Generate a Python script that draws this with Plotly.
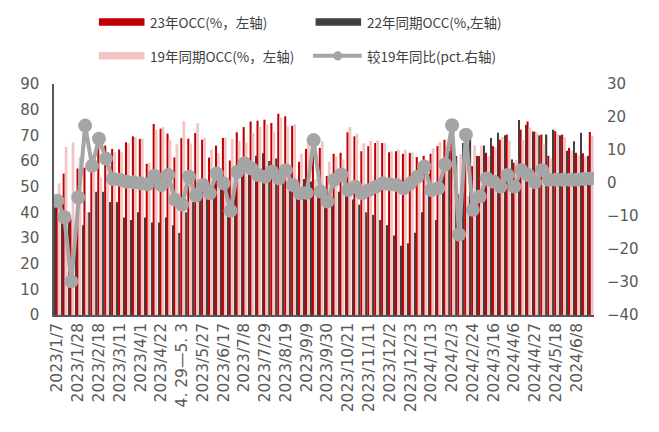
import plotly.graph_objects as go

categories = [
    "2023/1/7", "2023/1/14", "2023/1/21", "2023/1/28", "2023/2/4", "2023/2/11",
    "2023/2/18", "2023/2/25", "2023/3/4", "2023/3/11", "2023/3/18", "2023/3/25",
    "2023/4/1", "2023/4/8", "2023/4/15", "2023/4/22", "2023/4/29", "2023/5/6",
    "4. 29—5. 3", "2023/5/13", "2023/5/20", "2023/5/27", "2023/6/3", "2023/6/10",
    "2023/6/17", "2023/6/24", "2023/7/1", "2023/7/8", "2023/7/15", "2023/7/22",
    "2023/7/29", "2023/8/5", "2023/8/12", "2023/8/19", "2023/8/26", "2023/9/2",
    "2023/9/9", "2023/9/16", "2023/9/23", "2023/9/30", "2023/10/7", "2023/10/14",
    "2023/10/21", "2023/10/28", "2023/11/4", "2023/11/11", "2023/11/18", "2023/11/25",
    "2023/12/2", "2023/12/9", "2023/12/16", "2023/12/23", "2023/12/30", "2024/1/6",
    "2024/1/13", "2024/1/20", "2024/1/27", "2024/2/3", "2024/2/10", "2024/2/17",
    "2024/2/24", "2024/3/2", "2024/3/9", "2024/3/16", "2024/3/23", "2024/3/30",
    "2024/4/6", "2024/4/13", "2024/4/20", "2024/4/27", "2024/5/4", "2024/5/11",
    "2024/5/18", "2024/5/25", "2024/6/1", "2024/6/8", "2024/6/15", "2024/6/22",
]

occ_2023 = [
    45.9, 55.1, 37.5, 57.1, 57.4, 60.8, 67.0, 66.0, 64.7, 64.5, 67.3, 69.6,
    68.6, 58.9, 74.4, 72.6, 70.7, 61.4, 68.9, 68.7, 70.9, 68.3, 61.3, 66.0,
    69.0, 60.2, 71.2, 73.2, 75.4, 75.7, 76.1, 74.8, 78.4, 77.4, 73.7, 59.7,
    64.7, 66.0, 65.1, 54.2, 62.8, 63.2, 71.2, 69.6, 63.8, 65.8, 67.0, 67.0,
    63.4, 63.8, 62.8, 63.2, 61.5, 62.0, 62.8, 65.8, 68.3, 69.0, 47.0, 61.0,
    58.0, 61.9, 63.2, 65.8, 68.3, 70.3, 59.3, 72.2, 75.4, 71.4, 70.3, 62.0,
    71.6, 70.3, 65.1, 63.2, 63.0, 71.3,
]

occ_2022 = [
    42, 45, 40, 33, 35, 40, 48, 48, 44, 44, 38, 37,
    40, 38, 36, 36, 38, 35, 32, 40, 44, 47, 50, 52,
    52, 51, 55, 58, 61, 62, 63, 60, 61, 58, 55, 52,
    53, 52, 50, 48, 46, 48, 47, 45, 43, 40, 39, 37,
    35, 31, 27, 28, 32, 40, 55, 37, 57, 64, 62, 67,
    70, 62, 66, 69, 71, 70, 60.6, 76, 74, 71.5, 70, 70.3,
    72.2, 70, 64, 67.7, 71, 62,
]

occ_2019 = [
    51.3, 65.5, 67.3, 61.5, 40.0, 55.6, 53.6, 58.6, 63.5, 63.5, 66.9, 69.4,
    68.7, 59.3, 72.2, 73.2, 68.3, 66.5, 75.5, 66.8, 74.7, 68.9, 64.4, 63.1,
    69.1, 68.6, 67.8, 67.3, 71.0, 73.3, 74.2, 71.4, 77.0, 73.5, 74.3, 62.8,
    67.7, 53.0, 67.7, 59.8, 61.8, 60.6, 73.3, 70.7, 66.9, 67.9, 68.1, 67.1,
    63.8, 64.4, 64.4, 63.3, 59.6, 57.0, 64.9, 67.4, 62.7, 51.5, 62.6, 46.4,
    66.1, 66.0, 61.8, 65.4, 69.4, 67.9, 60.4, 68.3, 73.0, 71.2, 66.4, 61.0,
    70.6, 69.3, 64.1, 62.2, 61.8, 69.9,
]

yoy_vs_2019 = [
    -5.4, -10.4, -29.8, -4.4, 17.4, 5.2, 13.4, 7.4, 1.2, 1.0, 0.4, 0.2,
    -0.1, -0.4, 2.2, -0.6, 2.4, -5.1, -6.6, 1.9, -3.8, -0.6, -3.1, 2.9,
    -0.1, -8.4, 3.4, 5.9, 4.4, 2.4, 1.9, 3.4, 1.4, 3.9, -0.6, -3.1,
    -3.0, 13.0, -2.6, -5.6, 1.0, 2.6, -2.1, -1.1, -3.1, -2.1, -1.1, -0.1,
    -0.4, -0.6, -1.6, -0.1, 1.9, 5.0, -2.1, -1.6, 5.6, 17.5, -15.6, 14.6,
    -8.1, -4.1, 1.4, 0.4, -1.1, 2.4, -1.1, 3.9, 2.4, 0.2, 3.9, 1.0,
    1.0, 1.0, 1.0, 1.0, 1.2, 1.4,
]

tick_positions = categories[::3]

legend_names = ["23年OCC(%，左轴)", "22年同期OCC(%,左轴)", "19年同期OCC(%，左轴)", "较19年同比(pct.右轴)"]

RED = "#C00000"
DARK = "#404040"
PINK = "#F2C4C4"
GREY = "#A5A5A5"
AXIS = "#595959"

# page offset from default body margin
OFF = 8
W, H = 643, 416
# plot area in page pixels: x 48..613, y 84..318
ML, MR, MT, MB = 48 - OFF, W - (613 - OFF), 84 - OFF, H - (318 - OFF)
PW, PH = W - ML - MR, H - MT - MB


def px(x):
    return (x - OFF - ML) / PW


def py(y):
    return (H - MB - (y - OFF)) / PH


fig = go.Figure()
fig.add_trace(go.Bar(x=categories, y=occ_2022, name=legend_names[1], marker=dict(color=DARK, line_width=0),
                     width=0.2, offset=-0.45, showlegend=False))
fig.add_trace(go.Bar(x=categories, y=occ_2023, name=legend_names[0], marker=dict(color=RED, line_width=0),
                     width=0.3, offset=-0.25, showlegend=False))
fig.add_trace(go.Bar(x=categories, y=occ_2019, name=legend_names[2], marker=dict(color=PINK, line_width=0),
                     width=0.4, offset=0.05, showlegend=False))
fig.add_trace(go.Scatter(x=categories, y=yoy_vs_2019, name=legend_names[3], yaxis="y2",
                         mode="lines+markers", line=dict(color=GREY, width=4),
                         marker=dict(color=GREY, size=14), showlegend=False))

xtick_font = dict(family="DejaVu Sans", size=15.5, color=AXIS)
ytick_font = dict(family="DejaVu Sans", size=15, color=AXIS)

shapes = []
annotations = []
leg_font = dict(family="Noto Sans CJK SC", size=13.5, color="#404040")
for (x0, x1, y0, y1, col) in [(95, 142.7, 17.3, 25, RED), (321.7, 369.3, 17.3, 25, DARK), (95, 142.7, 51.7, 59.3, PINK)]:
    shapes.append(dict(type="rect", xref="paper", yref="paper", x0=px(x0), x1=px(x1), y0=py(y1), y1=py(y0),
                       fillcolor=col, line_width=0, layer="above"))
shapes.append(dict(type="line", xref="paper", yref="paper", x0=px(319), x1=px(370), y0=py(55.5), y1=py(55.5),
                   line=dict(color=GREY, width=4)))
shapes.append(dict(type="circle", xref="paper", yref="paper", x0=px(340.3), x1=px(349.7), y0=py(60.2), y1=py(50.8),
                   fillcolor=GREY, line_width=0))
for (tx, ty, txt) in [(146.7, 21, legend_names[0]), (373.3, 21, legend_names[1]),
                      (146.7, 55.5, legend_names[2]), (373.3, 55.5, legend_names[3])]:
    annotations.append(dict(xref="paper", yref="paper", x=px(tx), y=py(ty), text=txt, showarrow=False,
                            xanchor="left", yanchor="middle", font=leg_font))

fig.update_layout(
    width=W, height=H,
    margin=dict(l=ML, r=MR, t=MT, b=MB),
    paper_bgcolor="white", plot_bgcolor="white",
    barmode="overlay",
    showlegend=False,
    xaxis=dict(type="category", range=[-0.5, len(categories) - 0.5], showline=True, linecolor=AXIS, linewidth=1.5,
               tickangle=-90, tickmode="array", tickvals=tick_positions, ticktext=tick_positions,
               tickfont=xtick_font, ticks="", showgrid=False),
    yaxis=dict(range=[0, 90], dtick=10, showline=True, linecolor=AXIS, linewidth=1.5, showgrid=False,
               zeroline=False, tickfont=ytick_font, ticks="", ticklabelstandoff=10),
    yaxis2=dict(range=[-40, 30], dtick=10, overlaying="y", side="right", showline=False, showgrid=False,
                zeroline=False, tickfont=ytick_font, ticks="", ticklabelstandoff=12),
    shapes=shapes,
    annotations=annotations,
)

fig.write_html("out.html")
